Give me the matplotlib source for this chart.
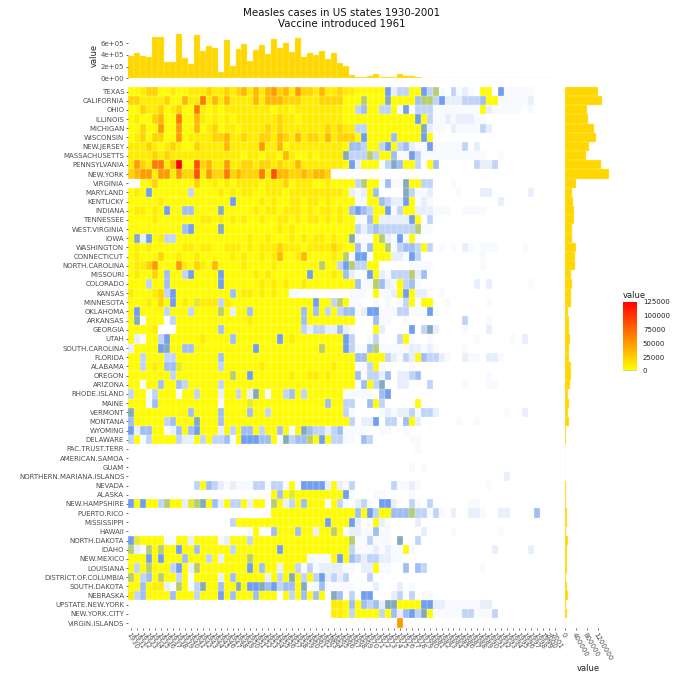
import numpy as np
from matplotlib import pyplot as plt
from matplotlib.colors import LinearSegmentedColormap, Normalize

years = list(range(1930, 2002))

states = ["TEXAS", "CALIFORNIA", "OHIO", "ILLINOIS", "MICHIGAN", "WISCONSIN", "NEW.JERSEY",
          "MASSACHUSETTS", "PENNSYLVANIA", "NEW.YORK", "VIRGINIA", "MARYLAND", "KENTUCKY",
          "INDIANA", "TENNESSEE", "WEST.VIRGINIA", "IOWA", "WASHINGTON", "CONNECTICUT",
          "NORTH.CAROLINA", "MISSOURI", "COLORADO", "KANSAS", "MINNESOTA", "OKLAHOMA",
          "ARKANSAS", "GEORGIA", "UTAH", "SOUTH.CAROLINA", "FLORIDA", "ALABAMA", "OREGON",
          "ARIZONA", "RHODE.ISLAND", "MAINE", "VERMONT", "MONTANA", "WYOMING", "DELAWARE",
          "PAC.TRUST.TERR", "AMERICAN.SAMOA", "GUAM", "NORTHERN.MARIANA.ISLANDS", "NEVADA",
          "ALASKA", "NEW.HAMPSHIRE", "PUERTO.RICO", "MISSISSIPPI", "HAWAII", "NORTH.DAKOTA",
          "IDAHO", "NEW.MEXICO", "LOUISIANA", "DISTRICT.OF.COLUMBIA", "SOUTH.DAKOTA",
          "NEBRASKA", "UPSTATE.NEW.YORK", "NEW.YORK.CITY", "VIRGIN.ISLANDS"]

# cases per year, one letter per cell, see level_values
level_values = {"a": 40, "b": 110, "c": 250, "d": 380, "e": 560, "f": 750, "g": 950, "y": 1150,
                "0": 2500, "1": 10000, "2": 22000, "3": 36000, "4": 50000, "5": 66000,
                "6": 85000, "9": 125000}

# 1930-1965
heat_left = [
    "0012200100" "1112112123" "1313423142" "213112",
    "2211112003" "1151313111" "1313332221" "112222",
    "0021120120" "0510101111" "1111011011" "111111",
    "0100230050" "0310101011" "1111121101" "111111",
    "0020040040" "0301201101" "1112121111" "111212",
    "0120220040" "1111223112" "1122132131" "221312",
    "1112101210" "0211113111" "1141130111" "111111",
    "1111212111" "1111111110" "1101103100" "101111",
    "1421551390" "0623114112" "2122121131" "111111",
    "2344144142" "2614225232" "2251633223" "2332__",
    "__00200000" "0200101011" "1101112011" "100100",
    "010e000000" "c000010101" "1001110111" "111111",
    "0000010000" "0000000e00" "0010100110" "110100",
    "011010e00d" "d0000f0000" "0101101110" "101101",
    "0000100000" "0011010101" "0010011010" "110101",
    "000000000d" "e0000f0000" "0000010100" "000000",
    "0fbe01cc00" "0000000000" "1001000101" "011010",
    "0101000001" "1011001110" "1011121110" "111121",
    "0100020010" "0100000101" "0010130013" "000010",
    "0112400041" "0210300001" "0000100000" "00g00c",
    "010020d00c" "e0000e0000" "0101000000" "e00010",
    "000c00d000" "00000e0000" "0010101001" "000000",
    "100012ce00" "0000000d01" "1010100aa_" "______",
    "0001020e01" "0y111c1000" "0000000000" "0e00cg",
    "0e0000c000" "c0000g0b00" "d00000000d" "0d0c0c",
    "0fa000ac00" "0000000000" "100000000d" "000000",
    "00001___00" "00000d0000" "000000000c" "bccbbd",
    "0ba00ce000" "0010000d00" "00000e0100" "000000",
    "b0000ef00d" "d000000000" "0e00000000" "00g000",
    "00c000cc00" "00000d0000" "0000000000" "000000",
    "00c010ddy0" "00000c0000" "0010000000" "000010",
    "0000000c00" "0000000g00" "e000000100" "110100",
    "00a00d00dc" "00000c0000" "0000000000" "000000",
    "c00ac000a0" "0c000b00c0" "bf0a00cd0c" "000000",
    "000ad00000" "00000a0000" "y000000000" "000d00",
    "f000000000" "d0000d0000" "d00c000000" "000000",
    "d00000cd00" "0f000d0000" "0000000000" "000000",
    "ebdd00abd0" "de000b0c0d" "d0c00d0a0f" "dccbcd",
    "c0ac0000cb" "b0c0ccda0e" "eedd0afcdd" "g0e0cc",
    "",
    "",
    "",
    "",
    "__________" "_c0dcbabaa" "accacca0ae" "eeeb0b",
    "__________" "__________" "____0d0y00" "000000",
    "e0e00cg00b" "ygf0db0cc0" "b00ag0bc0d" "000a0c",
    "__________" "__________" "____000000" "000000",
    "__________" "_______c00" "0000000000" "000e00",
    "__________" "__________" "a0__d000d0" "0b00g0",
    "ey0000aa00" "b0000ab000" "c000000000" "000000",
    "gbag0g00e0" "0d00000c00" "00000e0000" "000000",
    "000e0e000d" "000c0b0000" "g000000000" "aaaa0e",
    "0c0g000ce0" "bg00000000" "e0d00b00ca" "cabbbb",
    "g0cd0g00c0" "a0000b0d00" "000b0c0f0c" "0cebcb",
    "00d011bag0" "acf00d00f0" "eefdecdd0f" "aadaaa",
    "1cd0000d00" "0c000e0d00" "0d000a0c0d" "0d0afd",
    "__________" "__________" "__________" "____11",
    "__________" "__________" "__________" "____11",
    "",
]

# 1966-2001
heat_right = [
    "1100000ebc" "c00ecga_ca" "ba_00_eaaa" "aa",
    "000g000f00" "00dggcebbb" "cccd00aaaa" "ab",
    "00cd00cc0a" "eacccaaaaa" "aaa0baaaaa" "_a",
    "0000000000" "00e0caabab" "bbaa",
    "11cc000000" "000fbaa_ba" "aaacb",
    "220e0000d0" "000e0",
    "0ddc00ce0c" "dbaaeaaaaa" "c_b",
    "fcccgc00da" "aecaaaaaaa" "aaaa__a",
    "0eb000acfd" "00c_0d____" "__cbbc",
    "",
    "00cg00adaa" "f00cc___a",
    "0bab0d____" "fcaab____a" "___bb_____" "_b",
    "00aa00dcbb" "e0aba_____" "______b",
    "0dedc00eac" "00bbbaaa__" "aaaa",
    "00aad0bbbb" "be0_c",
    "00cbcdcccc" "ccgaa",
    "0faaa0gbae" "a0a",
    "00dad00gac" "ddc0c_a_a_" "ba_aaa____" "a",
    "gaeea000bb" "aec_______" "___a",
    "egcc00____" "_aaaa_____" "___a",
    "db_ae0bacc" "cgbd",
    "00daagdba0" "cda_______" "__b_b_____" "_a",
    "_aaa_0aab0" "e0bba_a",
    "0aa__a_a_a" "c0_00__a__" "____a",
    "ddabeeaaac" "caaaea",
    "00___daa__" "a_________" "c___a",
    "ba___0b___" "_e_cfb____" "a___b",
    "ec__ac___c" "0a__a_____" "__a_____a_" "b",
    "ecaadgaaaa" "abbaba____" "a",
    "00dd000cba" "cb0dccba__" "baa_bba",
    "00aac0a___" "_a",
    "00daccbd_b" "bcd_______" "____a",
    "00ad0cf__b" "b___c_____" "a___aa",
    "aaaaa_de",
    "cc__d0c___" "__0",
    "ca____abab" "bcaccb____" "_______a__" "b",
    "0c_bbe_cc_" "d0b______a" "__a",
    "aaaa__aa__" "a",
    "aa_dc_____" "_aa",
    "__________" "__a",
    "",
    "__________" "_a_a",
    "__________" "__________" "_______b",
    "ac______ca" "aba_______" "____a",
    "ea___aa___" "_a",
    "a_bca_eeb_" "_ca_c_____" "_aa",
    "00d0ec00dd" "dgccaca_b_" "_bba__bb__" "__d___",
    "0eb_a0ba__" "__b",
    "abbaadaa__" "___b____a_" "______a",
    "0gaacaaa_f" "__c",
    "0caaababaa" "0a________" "_____b____" "_b",
    "0dcbccbbaa",
    "aa_bb0aa__" "d_dc______" "___a",
    "c___c",
    "aa___b___b" "_a",
    "_c_ee___bc" "_c_aa",
    "0d0dcdbff0" "000eebbaaa" "aaabb",
    "0c0000c0db" "decf0aaaaa" "ccaaac",
    "_________4",
]

# totals by year, top panel
year_totals = [383000, 429000, 383000, 371000, 714000, 708000, 280000, 286000, 760000, 343000,
               246000, 743000, 469000, 554000, 526000, 109000, 651000, 206000, 503000, 589000,
               291000, 480000, 577000, 423000, 680000, 520000, 611000, 451000, 697000, 371000,
               429000, 400000, 474000, 326000, 434000, 263000, 206000, 57000, 23000, 23000,
               40000, 74000, 29000, 23000, 17000, 74000, 40000, 46000, 23000, 11000,
               11000, 6000, 5000, 3000, 2000, 2000, 1500, 1500, 1500, 6000,
               6000, 1500, 1000, 1000, 800, 500, 300, 300, 300, 200, 200, 100]

# totals by state, right panel
state_totals = [1190000, 1340000, 808000, 820000, 1045000, 1140000, 891000, 760000, 1320000, 1590000,
                392000, 250000, 309000, 320000, 320000, 237000, 261000, 392000, 356000, 368000,
                202000, 237000, 214000, 226000, 107000, 130000, 154000, 178000, 154000, 154000,
                202000, 214000, 178000, 95000, 154000, 119000, 130000, 36000, 24000, 300,
                300, 300, 300, 24000, 36000, 36000, 60000, 60000, 48000, 107000,
                71000, 71000, 71000, 50000, 60000, 95000, 48000, 60000, 1000]

legend_ticks = [0, 25000, 50000, 75000, 100000, 125000]
top_ticks = [0, 200000, 400000, 600000]
top_ticklabels = ["0e+00", "2e+05", "4e+05", "6e+05"]
right_ticks = [0, 400000, 800000, 1200000]

vmax = 125000
cmap = LinearSegmentedColormap.from_list(
    "measles", [(0, "white"), (600 / vmax, "cornflowerblue"), (1250 / vmax, "yellow"), (1, "red")], N=4096)
norm = Normalize(0, vmax)


def decode(part):
    part = part[:36].ljust(36, "_")
    return [level_values.get(c, np.nan) for c in part]


heat = np.array([decode(a) + decode(b) for a, b in zip(heat_left, heat_right)])

W = 680.0


def box(x0, y0, x1, y1):
    # pixel box, y measured from the top
    return [x0 / W, 1 - y1 / W, (x1 - x0) / W, (y1 - y0) / W]


fig = plt.figure(figsize=(6.8, 6.8), dpi=100)
GREY = "#4d4d4d"
TICK = "#333333"
TS = 5.05

ax = fig.add_axes(box(128, 87, 558, 627.6))
ax.pcolormesh(np.arange(73), np.arange(60), heat, cmap=cmap, norm=norm, linewidth=0)
# thin tile borders
ax.vlines(np.arange(73), 0, 59, color="white", linewidth=0.35, alpha=0.6)
ax.hlines(np.arange(60), 0, 72, color="white", linewidth=0.35, alpha=0.6)
ax.set_xlim(0, 72)
ax.set_ylim(59, 0)
ax.set_yticks(np.arange(59) + 0.5)
ax.set_yticklabels(states, fontsize=TS, color=GREY)
ax.set_xticks(np.arange(72) + 0.5)
ax.set_xticklabels(years, fontsize=TS, color=GREY, rotation=-60, ha="left", va="top",
                   rotation_mode="anchor")
ax.tick_params(axis="both", length=1.5, width=0.5, color=TICK, pad=1.2)

ax_top = fig.add_axes(box(128, 33, 558, 78.3))
ax_top.bar(np.arange(72) + 0.5, year_totals, width=1.0, color="gold", edgecolor="#ffe97a", linewidth=0.25)
ax_top.set_xlim(0, 72)
ax_top.set_ylim(0, 777000)
ax_top.set_xticks([])
ax_top.set_yticks(top_ticks)
ax_top.set_yticklabels(top_ticklabels, fontsize=TS, color=GREY)
ax_top.tick_params(axis="y", length=1.5, width=0.5, color=TICK, pad=1.2)
ax_top.set_ylabel("value", fontsize=6, labelpad=1.5, color="#222222")

ax_right = fig.add_axes(box(565, 87, 612, 627.6))
ax_right.barh(np.arange(59) + 0.5, state_totals, height=1.0, color="gold", edgecolor="#ffe97a", linewidth=0.25)
ax_right.set_ylim(59, 0)
ax_right.set_xlim(0, 1710000)
ax_right.set_yticks([])
ax_right.set_xticks(right_ticks)
ax_right.set_xticklabels(right_ticks, fontsize=TS, color=GREY, rotation=-60, ha="left", va="top",
                         rotation_mode="anchor")
ax_right.tick_params(axis="x", length=1.5, width=0.5, color=TICK, pad=1.2)
ax_right.set_xlabel("value", fontsize=6, labelpad=2, color="#222222")

for a in (ax, ax_top, ax_right):
    for s in a.spines.values():
        s.set_visible(False)

# colour bar legend
ax_leg = fig.add_axes(box(622.7, 301.7, 636, 371))
grad = np.linspace(0, vmax, 512).reshape(-1, 1)
ax_leg.imshow(grad, aspect="auto", origin="lower", cmap=cmap, norm=norm, extent=[0, 1, 0, vmax])
ax_leg.set_xticks([])
ax_leg.yaxis.tick_right()
ax_leg.set_yticks(legend_ticks)
ax_leg.set_yticklabels(legend_ticks, fontsize=TS, color="#222222")
ax_leg.tick_params(axis="y", length=0, pad=5)
for s in ax_leg.spines.values():
    s.set_visible(False)
fig.text(622.7 / W, 1 - 298 / W, "value", fontsize=6, color="#222222", ha="left", va="baseline")

fig.text(341.5 / W, 1 - 18.5 / W, "Measles cases in US states 1930-2001\nVaccine introduced 1961",
         fontsize=7.4, ha="center", va="center", linespacing=1.15, color="#111111")

fig.savefig("out.png", dpi=100)
